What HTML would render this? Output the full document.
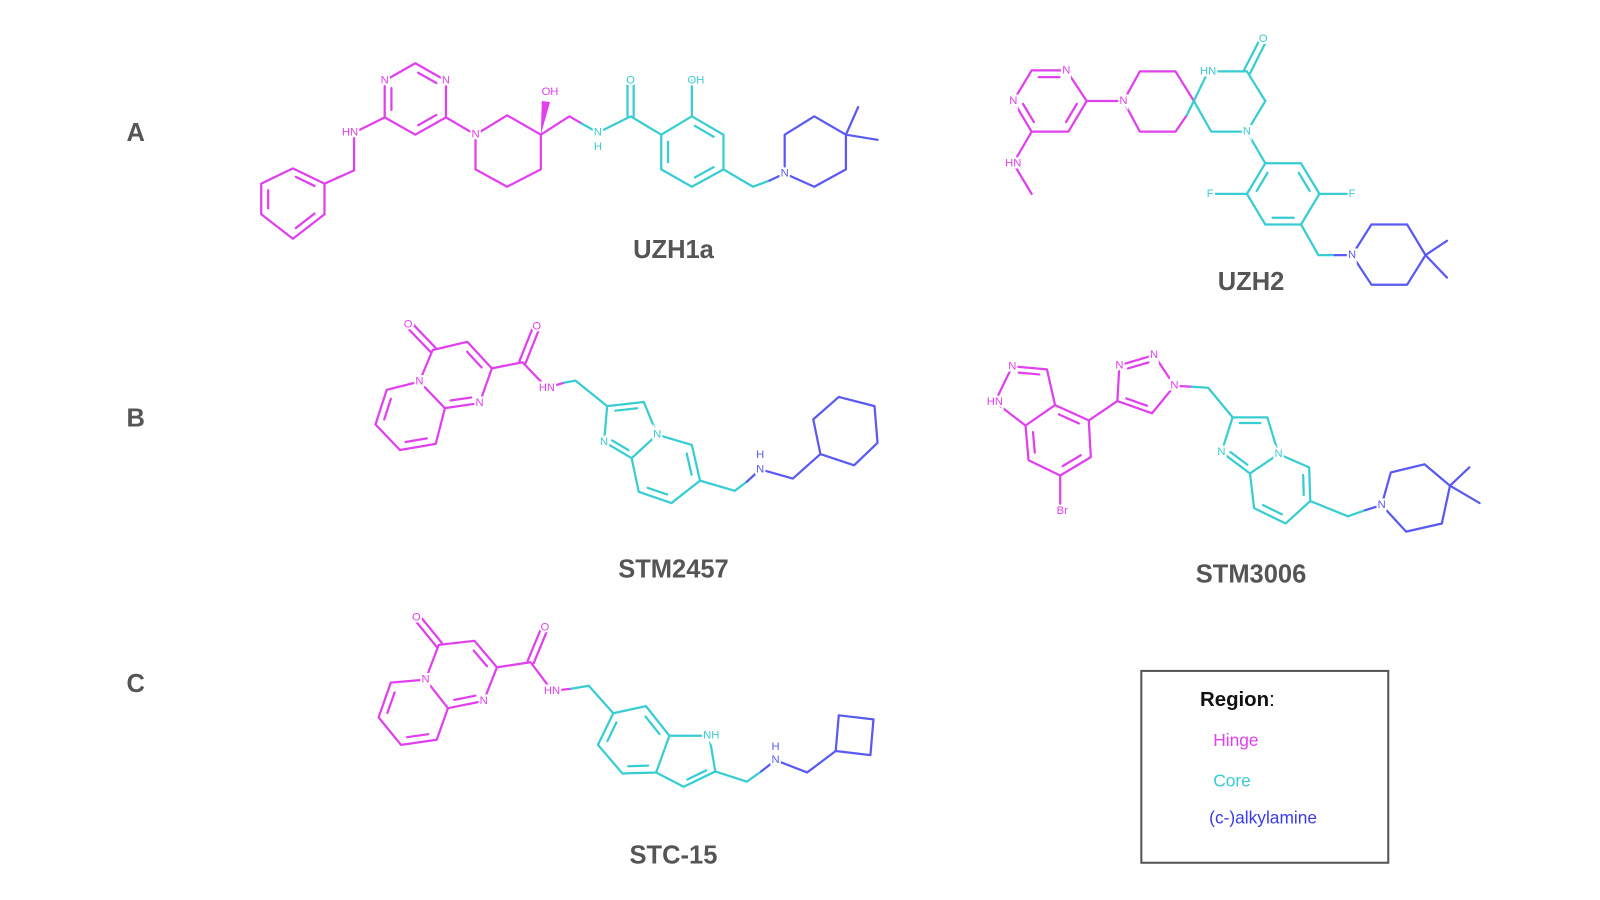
<!DOCTYPE html>
<html><head><meta charset="utf-8">
<style>
html,body{margin:0;padding:0;background:#fff;}
svg{display:block;}
.m{stroke:#e040ee;}
.c{stroke:#38cdd2;}
.b{stroke:#5a5af2;}
g.bonds *, #inner *{fill:none;stroke-width:2.2;stroke-linejoin:round;stroke-linecap:round;}
text.a{font-family:"Liberation Sans",sans-serif;font-size:11px;text-anchor:middle;dominant-baseline:central;stroke:#fff;stroke-width:4px;paint-order:stroke;}
text.tm{fill:#e040ee;} text.tc{fill:#38cdd2;} text.tb{fill:#5a5af2;}
text.lab{font-family:"Liberation Sans",sans-serif;font-size:25px;font-weight:bold;fill:#555;text-anchor:middle;}
</style></head>
<body>
<svg id="s" width="1600" height="900" viewBox="0 0 1568 882" xmlns="http://www.w3.org/2000/svg">
<rect width="1568" height="882" fill="#fff"/>

<text class="lab" x="133" y="138">A</text>
<text class="lab" x="133" y="418">B</text>
<text class="lab" x="133" y="678">C</text>

<!-- UZH1a -->
<g class="bonds">
<polygon class="m" points="287,165 318,180 318,210 287,234 256,210 256,180"/>
<polyline class="m" points="318,180 347,167 347,130 377,115"/>
<polygon class="m" points="377,115 377,79 407,62 437,79 437,115 407,132"/>
<line class="m" x1="437" y1="115" x2="466" y2="132"/>
<polygon class="m" points="466,132 497,113 530,132 530,166 497,183 466,166"/>
<polyline class="m" points="530,132 558,114 570,121"/>
<polyline class="c" points="570,121 586,130 618,114 648,132"/>
<line class="c" x1="615" y1="114" x2="615" y2="79"/><line class="c" x1="621" y1="114" x2="621" y2="79"/>
<polygon class="c" points="648,132 678,114 709,132 709,166 678,183 648,166"/>
<line class="c" x1="678" y1="114" x2="678" y2="79"/>
<polyline class="c" points="709,166 738,183 754,177"/>
<line class="b" x1="754" y1="177" x2="769" y2="170"/>
<polygon class="b" points="769,170 769,132 798,114 829,132 829,166 798,183"/>
<line class="b" x1="829" y1="132" x2="841" y2="105"/><line class="b" x1="829" y1="132" x2="860" y2="137"/>
</g>
<polygon points="530,132 531,99 539,100" fill="#e040ee"/>

<!-- UZH2 -->
<g class="bonds">
<polygon class="m" points="1011,69 1045,69 1065,99 1047,129 1011,129 993,99"/>
<polyline class="m" points="1011,129 993,160 1011,190"/>
<line class="m" x1="1065" y1="99" x2="1101" y2="99"/>
<polyline class="m" points="1170,99 1152,70 1117,70 1101,99 1117,129 1152,129 1163,113"/>
<line class="c" x1="1163" y1="113" x2="1170" y2="99"/>
<polygon class="c" points="1170,99 1184,70 1222,70 1240,99 1222,129 1187,129"/>
<line class="c" x1="1219" y1="69" x2="1235" y2="38"/><line class="c" x1="1225" y1="72" x2="1241" y2="40"/>
<line class="c" x1="1222" y1="129" x2="1240" y2="160"/>
<polygon class="c" points="1240,160 1275,160 1293,190 1275,220 1240,220 1222,190"/>
<line class="c" x1="1222" y1="190" x2="1186" y2="190"/><line class="c" x1="1293" y1="190" x2="1325" y2="190"/>
<polyline class="c" points="1275,220 1292,250 1308,250"/>
<line class="b" x1="1308" y1="250" x2="1325" y2="250"/>
<polygon class="b" points="1325,250 1344,220 1379,220 1397,250 1379,279 1344,279"/>
<line class="b" x1="1397" y1="250" x2="1418" y2="236"/><line class="b" x1="1397" y1="250" x2="1418" y2="272"/>
</g>

<!-- STM2457 -->
<g class="bonds">
<polygon class="m" points="411,374 424,343 458,335 482,361 470,395 436,400"/>
<line class="m" x1="422" y1="345" x2="398" y2="320"/><line class="m" x1="427" y1="341" x2="403" y2="316"/>
<polyline class="m" points="411,374 379,382 368,416 392,441 427,435 436,400"/>
<polyline class="m" points="482,361 512,355 536,380 553,375"/>
<line class="m" x1="509" y1="354" x2="523" y2="319"/><line class="m" x1="515" y1="356" x2="529" y2="321"/>
<polyline class="c" points="553,375 564,373 595,398"/>
<polygon class="c" points="595,398 631,394 644,426 619,449 592,433"/>
<polyline class="c" points="644,426 678,436 686,471 658,493 626,482 619,449"/>
<polyline class="c" points="686,471 720,481 732,472"/>
<polyline class="b" points="732,472 745,460 777,469 804,445"/>
<polygon class="b" points="804,445 797,411 822,389 857,398 860,434 837,456"/>
</g>

<!-- STM3006 -->
<g class="bonds">
<polygon class="m" points="975,394 992,359 1026,362 1034,397 1005,417"/>
<polyline class="m" points="1034,397 1067,412 1069,448 1039,466 1008,451 1005,417"/>
<line class="m" x1="1039" y1="466" x2="1039" y2="495"/>
<line class="m" x1="1067" y1="412" x2="1095" y2="393"/>
<polygon class="m" points="1095,393 1097,358 1131,348 1151,378 1129,405"/>
<line class="m" x1="1151" y1="378" x2="1168" y2="379"/>
<polyline class="c" points="1168,379 1184,380 1208,409"/>
<polygon class="c" points="1208,409 1242,409 1253,445 1225,464 1197,443"/>
<polyline class="c" points="1253,445 1283,458 1284,491 1260,513 1229,498 1225,464"/>
<polyline class="c" points="1284,491 1321,506 1338,500"/>
<line class="b" x1="1338" y1="500" x2="1354" y2="495"/>
<polygon class="b" points="1354,495 1363,463 1396,455 1421,476 1413,513 1378,521"/>
<line class="b" x1="1421" y1="476" x2="1440" y2="458"/><line class="b" x1="1421" y1="476" x2="1450" y2="493"/>
</g>

<!-- STC-15 -->
<g class="bonds">
<polygon class="m" points="417,666 430,632 465,628 487,654 474,687 439,694"/>
<line class="m" x1="428" y1="634" x2="406" y2="607"/><line class="m" x1="433" y1="630" x2="411" y2="603"/>
<polyline class="m" points="417,666 383,669 371,703 393,730 428,725 439,694"/>
<polyline class="m" points="487,654 520,649 541,677 560,675"/>
<line class="m" x1="517" y1="648" x2="531" y2="614"/><line class="m" x1="523" y1="650" x2="537" y2="616"/>
<polyline class="c" points="560,675 577,672 601,699"/>
<polygon class="c" points="601,699 633,692 656,721 643,757 610,758 586,730"/>
<polyline class="c" points="656,721 695,721 701,756 670,771 643,757"/>
<polyline class="c" points="701,756 732,766 746,756"/>
<polyline class="b" points="746,756 760,745 791,757 819,736"/>
<polygon class="b" points="819,736 822,701 856,705 853,740"/>
</g>

<g id="inner"></g>

<!-- labels -->
<text class="a tm" x="377" y="79">N</text><text class="a tm" x="437" y="79">N</text>
<text class="a tm" x="343" y="130">HN</text><text class="a tm" x="466" y="132">N</text>
<text class="a tm" x="539" y="90">OH</text>
<text class="a tc" x="586" y="130">N</text><text class="a tc" x="586" y="144">H</text>
<text class="a tc" x="618" y="79">O</text><text class="a tc" x="682" y="79">OH</text>
<text class="a tb" x="769" y="170">N</text>
<text class="lab" x="660" y="253">UZH1a</text>

<text class="a tm" x="1045" y="69">N</text><text class="a tm" x="993" y="99">N</text>
<text class="a tm" x="993" y="160">HN</text><text class="a tm" x="1101" y="99">N</text>
<text class="a tc" x="1184" y="70">HN</text><text class="a tc" x="1238" y="38">O</text>
<text class="a tc" x="1222" y="129">N</text><text class="a tc" x="1186" y="190">F</text><text class="a tc" x="1325" y="190">F</text>
<text class="a tb" x="1325" y="250">N</text>
<text class="lab" x="1226" y="284">UZH2</text>

<text class="a tm" x="400" y="318">O</text><text class="a tm" x="526" y="320">O</text>
<text class="a tm" x="411" y="374">N</text><text class="a tm" x="470" y="395">N</text>
<text class="a tm" x="536" y="380">HN</text>
<text class="a tc" x="592" y="433">N</text><text class="a tc" x="644" y="426">N</text>
<text class="a tb" x="745" y="446">H</text><text class="a tb" x="745" y="460">N</text>
<text class="lab" x="660" y="566">STM2457</text>

<text class="a tm" x="992" y="359">N</text><text class="a tm" x="975" y="394">HN</text>
<text class="a tm" x="1097" y="358">N</text><text class="a tm" x="1131" y="348">N</text><text class="a tm" x="1151" y="378">N</text>
<text class="a tm" x="1041" y="501">Br</text>
<text class="a tc" x="1197" y="443">N</text><text class="a tc" x="1253" y="445">N</text>
<text class="a tb" x="1354" y="495">N</text>
<text class="lab" x="1226" y="571">STM3006</text>

<text class="a tm" x="408" y="605">O</text><text class="a tm" x="534" y="615">O</text>
<text class="a tm" x="417" y="666">N</text><text class="a tm" x="474" y="687">N</text>
<text class="a tm" x="541" y="677">HN</text>
<text class="a tc" x="697" y="721">NH</text>
<text class="a tb" x="760" y="732">H</text><text class="a tb" x="760" y="745">N</text>
<text class="lab" x="660" y="846">STC-15</text>

<!-- Legend -->
<rect x="1118.5" y="657.5" width="242" height="188" fill="none" stroke="#555" stroke-width="2"/>
<text x="1176" y="692" font-family="Liberation Sans,sans-serif" font-size="20" font-weight="bold" fill="#111">Region<tspan font-weight="normal">:</tspan></text>
<text x="1189" y="731" font-family="Liberation Sans,sans-serif" font-size="17" fill="#e040ee">Hinge</text>
<text x="1189" y="771" font-family="Liberation Sans,sans-serif" font-size="17" fill="#38cdd2">Core</text>
<text x="1185" y="807" font-family="Liberation Sans,sans-serif" font-size="17" fill="#3a3af0">(c-)alkylamine</text>
</svg>
<script>
(function(){
var R=[
["m","287,165 318,180 318,210 287,234 256,210 256,180",[0,2,4]],
["m","377,115 377,79 407,62 437,79 437,115 407,132",[0,2,4]],
["c","648,132 678,114 709,132 709,166 678,183 648,166",[1,3,5]],
["m","1011,69 1045,69 1065,99 1047,129 1011,129 993,99",[0,2,4]],
["c","1240,160 1275,160 1293,190 1275,220 1240,220 1222,190",[1,3,5]],
["m","411,374 424,343 458,335 482,361 470,395 436,400",[2,4]],
["m","411,374 379,382 368,416 392,441 427,435 436,400",[1,3]],
["c","595,398 631,394 644,426 619,449 592,433",[0,3]],
["c","644,426 678,436 686,471 658,493 626,482 619,449",[1,3]],
["m","975,394 992,359 1026,362 1034,397 1005,417",[1]],
["m","1034,397 1067,412 1069,448 1039,466 1008,451 1005,417",[0,2,4]],
["m","1095,393 1097,358 1131,348 1151,378 1129,405",[1,4]],
["c","1208,409 1242,409 1253,445 1225,464 1197,443",[0,3]],
["c","1253,445 1283,458 1284,491 1260,513 1229,498 1225,464",[1,3]],
["m","417,666 430,632 465,628 487,654 474,687 439,694",[2,4]],
["m","417,666 383,669 371,703 393,730 428,725 439,694",[1,3]],
["c","601,699 633,692 656,721 643,757 610,758 586,730",[1,3,5]],
["c","656,721 695,721 701,756 670,771 643,757",[2]]
];
var g=document.getElementById("inner"),ns="http://www.w3.org/2000/svg";
R.forEach(function(r){
 var p=r[1].split(" ").map(function(s){return s.split(",").map(Number);});
 var cx=0,cy=0;p.forEach(function(q){cx+=q[0];cy+=q[1];});cx/=p.length;cy/=p.length;
 r[2].forEach(function(i){
  var a=p[i],b=p[(i+1)%p.length];
  var a2=[a[0]+(cx-a[0])*0.22,a[1]+(cy-a[1])*0.22],b2=[b[0]+(cx-b[0])*0.22,b[1]+(cy-b[1])*0.22];
  var dx=b2[0]-a2[0],dy=b2[1]-a2[1];
  var l=document.createElementNS(ns,"line");
  l.setAttribute("class",r[0]);
  l.setAttribute("x1",a2[0]+dx*0.12);l.setAttribute("y1",a2[1]+dy*0.12);
  l.setAttribute("x2",b2[0]-dx*0.12);l.setAttribute("y2",b2[1]-dy*0.12);
  g.appendChild(l);
 });
});
})();
</script>
</body></html>
